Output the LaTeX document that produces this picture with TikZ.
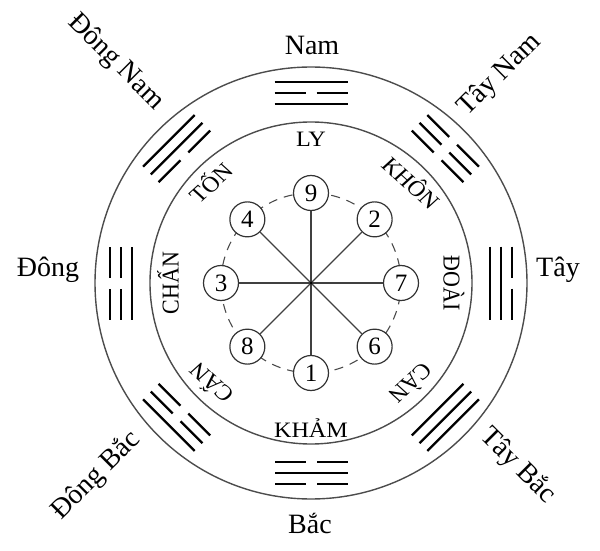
\documentclass[tikz,border=0pt]{standalone}
\usepackage{fontspec}
\setmainfont{Liberation Serif}
\usetikzlibrary{calc}
\begin{document}
\begin{tikzpicture}[x=1pt,y=1pt,
  ring/.style={draw=black!70, line width=1.4pt},
  yao/.style={line width=2.3pt, black},
  numc/.style={circle, draw=black!80, line width=1.2pt, fill=white, minimum size=35pt, inner sep=0pt, font=\fontsize{25}{25}\selectfont},
  spoke/.style={draw=black!75, line width=1.1pt},
  dashring/.style={draw=black!70, line width=1.1pt, dash pattern=on 9pt off 7pt},
  inlab/.style={font=\fontsize{22}{22}\selectfont, inner sep=0pt, xscale=1.1},
  outlab/.style={font=\fontsize{28}{28}\selectfont, inner sep=0pt}]
\useasboundingbox (0,0) rectangle (600,550);
\coordinate (O) at (311,267);
% rings
\draw[ring] (O) circle[radius=216];
\draw[ring] (O) circle[radius=161];
\draw[dashring] (O) circle[radius=90];
% trigrams: angle / inner / middle / outer (1 solid, 0 broken)
\foreach \a/\p/\q/\r in {90/1/0/1, 45/0/0/0, 0/1/1/0, -45/1/1/1, -90/0/1/0, -135/0/0/1, 180/1/0/0, 135/0/1/1}{
  \begin{scope}[shift={(O)}, rotate=\a-90]
    \foreach \v/\rad in {\p/179, \q/190, \r/201}{
      \ifnum\v=1
        \draw[yao] (-36.5,\rad) -- (36.5,\rad);
      \else
        \draw[yao] (-36.5,\rad) -- (-5.5,\rad);
        \draw[yao] (5.5,\rad) -- (36.5,\rad);
      \fi
    }
  \end{scope}
}
% number circles
\foreach \n/\a in {9/90, 2/45, 7/0, 6/-45, 1/-90, 8/-135, 3/180, 4/135}{
  \node[numc] (n\n) at ($(O)+(\a:90)$) {\n};
}
\foreach \n in {9,2,7,6,1,8,3,4}{
  \draw[spoke] (O) -- (n\n);
}
\fill (O) circle[radius=1.5pt];
% inner labels
\node[inlab, rotate=0]    (ly)    at ($(O)+(90:144)$)   {LY};
\node[inlab, rotate=-45]  (khon)  at ($(O)+(45:143)$)   {KHÔN};
\node[inlab, rotate=-90]  (doai)  at ($(O)+(0:143)$)    {ĐOÀI};
\node[inlab, rotate=-135] (can2)  at ($(O)+(-45:143)$)  {CÀN};
\node[inlab, rotate=0]    (kham)  at ($(O)+(-90:145)$)  {KHẢM};
\node[inlab, rotate=135]  (can1)  at ($(O)+(-135:143)$) {CẤN};
\node[inlab, rotate=90]   (chan)  at ($(O)+(180:143)$)  {CHẤN};
\node[inlab, rotate=45]   (ton)   at ($(O)+(135:143)$)  {TỐN};
% outer labels
\node[outlab] (nam) at (312,505) {Nam};
\node[outlab, rotate=45] (taynam) at (500,475) {Tây Nam};
\node[outlab] (tay) at (558,280) {Tây};
\node[outlab, rotate=-45] (taybac) at (518,84) {Tây Bắc};
\node[outlab] (bac) at (310,27) {Bắc};
\node[outlab, rotate=45] (dongbac) at (96,74) {Đông Bắc};
\node[outlab] (dong) at (48,280) {Đông};
\node[outlab, rotate=-45] (dongnam) at (116,488) {Đông Nam};
\end{tikzpicture}
\end{document}
